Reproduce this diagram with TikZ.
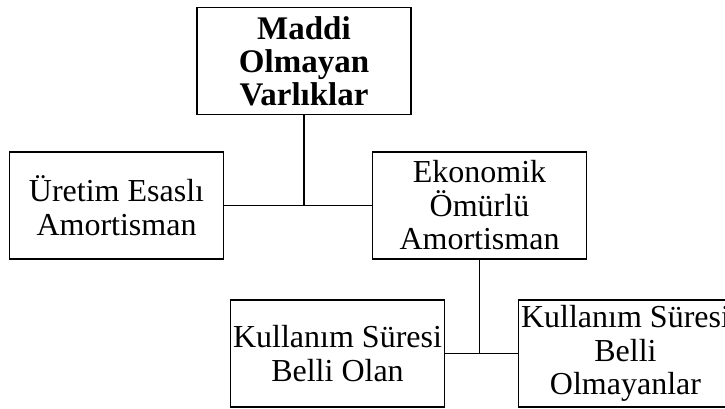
\documentclass[tikz,border=0pt]{standalone}
\usepackage{fontspec}
\setmainfont{Liberation Serif}
\begin{document}
\begin{tikzpicture}[x=1pt,y=-1pt,
 box/.style={draw, line width=1.8pt, minimum width=214pt, minimum height=107pt, inner sep=0pt, align=center, font=\fontsize{32}{33.5}\selectfont},
 link/.style={line width=1.8pt}]
\useasboundingbox (0,0) rectangle (725,408);
\clip (0,0) rectangle (725,408);
\node[box, font=\bfseries\fontsize{33}{33}\selectfont] (top) at (304,61) {Maddi\\Olmayan\\Varlıklar};
\node[box] (left) at (116.5,205.5) {Üretim Esaslı\\Amortisman};
\node[box] (eko) at (479.5,205.5) {Ekonomik\\Ömürlü\\Amortisman};
\node[box] (bl) at (337.5,353.5) {Kullanım Süresi\\Belli Olan};
\node[box] (br) at (625.5,353.5) {Kullanım Süresi\\Belli\\Olmayanlar};
\draw[link] (top.south) -- (top.south |- left.east);
\draw[link] (left.east) -- (eko.west);
\draw[link] (eko.south) -- (eko.south |- bl.east);
\draw[link] (bl.east) -- (br.west);
\end{tikzpicture}
\end{document}
